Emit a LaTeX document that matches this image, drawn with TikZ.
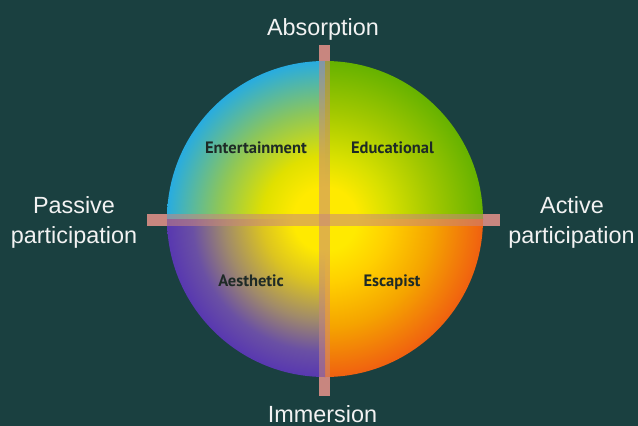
\documentclass[tikz,border=0pt]{standalone}
\usepackage{fontspec}
\setmainfont{Liberation Sans}
\newfontfamily\quadfont{PT Sans}
\definecolor{bgteal}{HTML}{1A4040}
\definecolor{barcol}{HTML}{C8867F}
\definecolor{labwhite}{HTML}{F2F2F2}
\definecolor{quaddark}{HTML}{1E2A26}
\definecolor{ylw}{HTML}{FFEA00}
\definecolor{tlA}{HTML}{E0E000}
\definecolor{tlB}{HTML}{8CC65A}
\definecolor{tlC}{HTML}{28ACE0}
\definecolor{trA}{HTML}{D8E000}
\definecolor{trB}{HTML}{A2C800}
\definecolor{trC}{HTML}{66B200}
\definecolor{brA}{HTML}{FFD000}
\definecolor{brB}{HTML}{F5A400}
\definecolor{brC}{HTML}{F06010}
\definecolor{blA}{HTML}{DCC420}
\definecolor{blB}{HTML}{A08A6A}
\definecolor{blC}{HTML}{6A50A4}
\definecolor{blD}{HTML}{5838B0}
\pgfdeclareradialshading{tlshade}{\pgfpoint{0bp}{0bp}}{color(0bp)=(ylw); color(5bp)=(ylw); color(10bp)=(tlA); color(17bp)=(tlB); color(25bp)=(tlC); color(50bp)=(tlC)}
\pgfdeclareradialshading{trshade}{\pgfpoint{0bp}{0bp}}{color(0bp)=(ylw); color(5bp)=(ylw); color(10bp)=(trA); color(17bp)=(trB); color(25bp)=(trC); color(50bp)=(trC)}
\pgfdeclareradialshading{brshade}{\pgfpoint{0bp}{0bp}}{color(0bp)=(ylw); color(5bp)=(ylw); color(10bp)=(brA); color(17bp)=(brB); color(25bp)=(brC); color(50bp)=(brC)}
\pgfdeclareradialshading{blshade}{\pgfpoint{0bp}{0bp}}{color(0bp)=(ylw); color(5bp)=(ylw); color(10bp)=(blA); color(16bp)=(blB); color(21bp)=(blC); color(25bp)=(blD); color(50bp)=(blD)}
\tikzset{
  axislabel/.style={text=labwhite, font=\fontsize{23.4}{30}\selectfont, inner sep=0pt, anchor=base},
  quadlabel/.style={text=quaddark, font=\quadfont\bfseries\fontsize{16.5}{18}\selectfont, inner sep=0pt, anchor=base},
  barfill/.style={fill=barcol}
}
\begin{document}
\begin{tikzpicture}[x=1pt,y=-1pt]
\fill[bgteal] (0,0) rectangle (638,426);
\useasboundingbox (0,0) rectangle (638,426);
\coordinate (c) at (325,219);
% bars (solid, outside parts)
\fill[barfill] (319,45) rectangle (330,396);
\fill[barfill] (147,214) rectangle (500,226);
% quadrants
\begin{scope}
  \clip (325,219) rectangle (150,40);
  \shade[shading=tlshade] (c) circle (158);
\end{scope}
\begin{scope}
  \clip (325,219) rectangle (500,40);
  \shade[shading=trshade] (c) circle (158);
\end{scope}
\begin{scope}
  \clip (325,219) rectangle (500,400);
  \shade[shading=brshade] (c) circle (158);
\end{scope}
\begin{scope}
  \clip (325,219) rectangle (150,400);
  \shade[shading=blshade] (c) circle (158);
\end{scope}
% bars (translucent, over circle)
\begin{scope}
  \clip (c) circle (158);
  \fill[barfill, opacity=0.55] (319,45) rectangle (330,396);
  \fill[barfill, opacity=0.55] (147,214) rectangle (500,226);
\end{scope}
% quadrant labels
\node[quadlabel] (ent) at (256,153) {Entertainment};
\node[quadlabel] (edu) at (392.5,153) {Educational};
\node[quadlabel] (aes) at (251,286) {Aesthetic};
\node[quadlabel] (esc) at (392,286) {Escapist};
% axis labels
\node[axislabel] (abs) at (323,35) {Absorption};
\node[axislabel] (imm) at (322.5,422) {Immersion};
\node[axislabel] (pas1) at (74,213) {Passive};
\node[axislabel] (pas2) at (74,243) {participation};
\node[axislabel] (act1) at (572,213) {Active};
\node[axislabel] (act2) at (571.5,243) {participation};
\end{tikzpicture}
\end{document}
